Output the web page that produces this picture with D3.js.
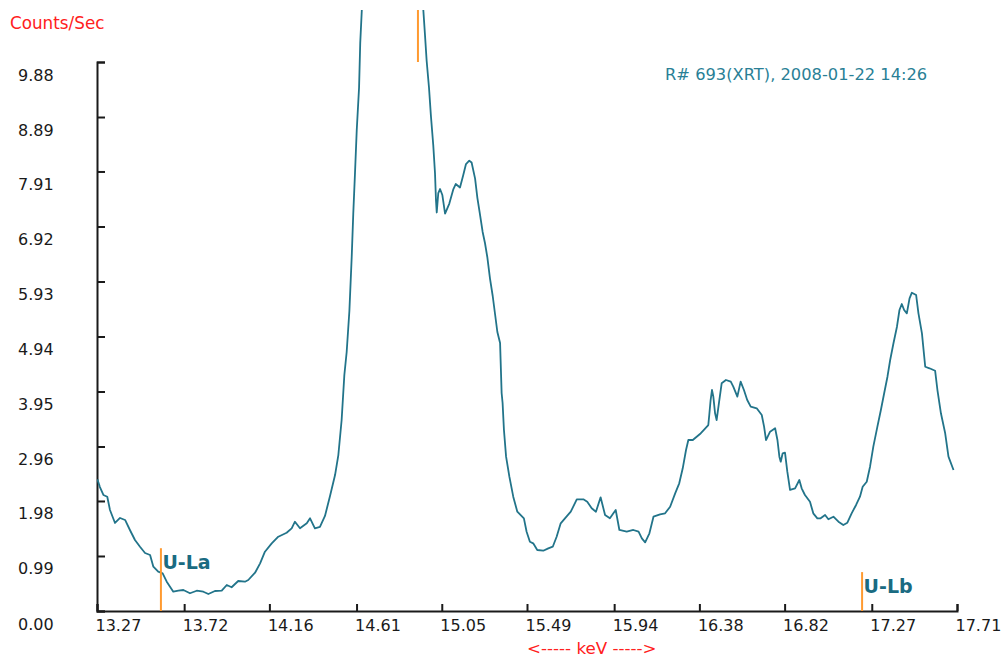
<!DOCTYPE html>
<html>
<head>
<meta charset="utf-8">
<script src="https://cdn.jsdelivr.net/npm/d3@7"></script>
<style>
  html, body { margin: 0; padding: 0; background: #fff; }
  svg { display: block; }
</style>
</head>
<body>
<svg id="chart" width="1003" height="657"></svg>
<script>
// ---- data ----
const xTickValues = [13.27, 13.72, 14.16, 14.61, 15.05, 15.49, 15.94, 16.38, 16.82, 17.27, 17.71];
const yTickValues = [0, 0.99, 1.98, 2.96, 3.95, 4.94, 5.93, 6.92, 7.91, 8.89, 9.88];

const energy = [
  13.272, 13.285, 13.303, 13.323, 13.337, 13.363, 13.389, 13.415, 13.440, 13.466,
  13.492, 13.518, 13.544, 13.561, 13.586, 13.609, 13.630, 13.664, 13.690, 13.716,
  13.750, 13.785, 13.819, 13.845, 13.879, 13.914, 13.940, 13.965, 13.999, 14.034,
  14.051, 14.086, 14.112, 14.137, 14.172, 14.206, 14.249, 14.275, 14.292, 14.318,
  14.353, 14.370, 14.395, 14.421, 14.447, 14.473, 14.499, 14.516, 14.533, 14.547,
  14.559, 14.573, 14.585, 14.593, 14.602, 14.611, 14.623, 14.629, 14.637,
  14.66, 14.70, 14.75, 14.80, 14.85, 14.90, 14.93,
  14.955, 14.963, 14.972, 14.984, 14.994, 15.006, 15.015, 15.020, 15.024, 15.032,
  15.041, 15.053, 15.067, 15.089, 15.110, 15.122, 15.144, 15.161, 15.175, 15.192,
  15.204, 15.222, 15.234, 15.247, 15.261, 15.273, 15.285, 15.299, 15.313, 15.325,
  15.337, 15.351, 15.359, 15.364, 15.371, 15.382, 15.399, 15.419, 15.440, 15.474,
  15.488, 15.505, 15.522, 15.543, 15.574, 15.600, 15.623, 15.643, 15.664, 15.686,
  15.716, 15.747, 15.781, 15.801, 15.824, 15.846, 15.870, 15.893, 15.918, 15.936,
  15.948, 15.967, 16.005, 16.039, 16.066, 16.083, 16.100, 16.122, 16.143, 16.177,
  16.203, 16.229, 16.255, 16.276, 16.294, 16.311, 16.323, 16.346, 16.383, 16.426,
  16.431, 16.438, 16.445, 16.452, 16.461, 16.469, 16.483, 16.495, 16.517, 16.542,
  16.555, 16.576, 16.593, 16.610, 16.627, 16.645, 16.676, 16.702, 16.714, 16.724,
  16.745, 16.771, 16.783, 16.793, 16.800, 16.810, 16.822, 16.834, 16.848, 16.874,
  16.896, 16.908, 16.925, 16.951, 16.968, 16.989, 17.006, 17.029, 17.046, 17.072,
  17.098, 17.123, 17.144, 17.166, 17.189, 17.209, 17.223, 17.244, 17.261, 17.278,
  17.299, 17.317, 17.334, 17.351, 17.365, 17.382, 17.400, 17.413, 17.425, 17.437,
  17.451, 17.465, 17.477, 17.499, 17.511, 17.529, 17.546, 17.568, 17.597, 17.609,
  17.627, 17.649, 17.666, 17.692
];
const counts = [
  2.370, 2.231, 2.088, 2.057, 1.818, 1.584, 1.674, 1.638, 1.458, 1.278,
  1.157, 1.044, 1.008, 0.797, 0.707, 0.678, 0.527, 0.347, 0.365, 0.378,
  0.319, 0.365, 0.347, 0.306, 0.360, 0.365, 0.468, 0.427, 0.540, 0.527,
  0.558, 0.689, 0.858, 1.067, 1.218, 1.337, 1.409, 1.488, 1.607, 1.488,
  1.578, 1.668, 1.488, 1.512, 1.710, 2.070, 2.447, 2.807, 3.437, 4.247,
  4.661, 5.399, 6.371, 7.144, 7.882, 8.656, 9.421, 10.222, 10.803,
  12.6, 15.2, 17.0, 17.6, 16.8, 14.5, 12.3,
  10.803, 10.384, 9.898, 9.421, 8.908, 8.386, 7.882, 7.396, 7.172, 7.522,
  7.594, 7.486, 7.152, 7.332, 7.594, 7.684, 7.621, 7.846, 8.044, 8.104,
  8.071, 7.781, 7.432, 7.144, 6.821, 6.623, 6.371, 5.982, 5.669, 5.345,
  5.021, 4.823, 3.923, 3.743, 3.257, 2.777, 2.417, 2.057, 1.787, 1.668,
  1.427, 1.247, 1.218, 1.098, 1.085, 1.128, 1.157, 1.337, 1.578, 1.668,
  1.787, 2.010, 2.010, 1.967, 1.848, 1.787, 2.046, 1.728, 1.668, 1.758,
  1.818, 1.458, 1.427, 1.458, 1.427, 1.308, 1.236, 1.398, 1.697, 1.740,
  1.758, 1.877, 2.118, 2.298, 2.568, 2.897, 3.077, 3.077, 3.185, 3.347,
  3.527, 3.797, 3.977, 3.857, 3.558, 3.437, 3.797, 4.098, 4.157, 4.127,
  4.037, 3.857, 4.127, 3.977, 3.797, 3.677, 3.648, 3.527, 3.317, 3.077,
  3.227, 3.288, 3.077, 2.777, 2.687, 2.838, 2.849, 2.507, 2.178, 2.208,
  2.357, 2.208, 2.088, 1.967, 1.758, 1.668, 1.668, 1.728, 1.650, 1.697,
  1.607, 1.548, 1.589, 1.758, 1.908, 2.057, 2.237, 2.327, 2.597, 2.957,
  3.317, 3.617, 3.918, 4.216, 4.517, 4.818, 5.116, 5.417, 5.525, 5.417,
  5.357, 5.627, 5.728, 5.687, 5.357, 4.997, 4.396, 4.368, 4.324, 3.977,
  3.558, 3.198, 2.777, 2.537
];

// element line markers: energy, top of marker (counts), bottom (counts), label
const markerLabels = ["U-La", "", "U-Lb"];
const markerEnergy = [13.60, 14.927, 17.22];
const markerTop = [1.13, 10.82, 0.70];
const markerBottom = [0, 9.88, 0];

const titleText = "R# 693(XRT), 2008-01-22 14:26";
const yAxisTitle = "Counts/Sec";
const xAxisTitle = "<----- keV ----->";

// ---- drawing ----
const svg = d3.select("#chart");
const x = d3.scaleLinear().domain([13.27, 17.71]).range([97, 957]);
const y = d3.scaleLinear().domain([0, 9.88]).range([611, 62]);

const FONT = "'DejaVu Sans', Verdana, sans-serif";
const teal = "#22748a";
const orange = "#ff9a30";

// clip for the plot area (the curve leaves the top of the picture)
svg.append("defs").append("clipPath").attr("id", "plotclip")
  .append("rect").attr("x", 97).attr("y", 10).attr("width", 870).attr("height", 601);

// y axis (ticks pointing into plot)
const yAxis = d3.axisRight(y).tickValues(yTickValues).tickSize(8).tickSizeOuter(8).tickFormat("");
const gy = svg.append("g").attr("transform", "translate(97,0)").call(yAxis);
gy.selectAll("path, line").attr("stroke", "#1a1a1a").attr("stroke-width", 2);

// x axis (ticks pointing up)
const xAxis = d3.axisTop(x).tickValues(xTickValues).tickSize(7).tickSizeOuter(7).tickFormat("");
const gx = svg.append("g").attr("transform", "translate(0,611)").call(xAxis);
gx.selectAll("path, line").attr("stroke", "#1a1a1a").attr("stroke-width", 2);

// y tick labels
svg.append("g").selectAll("text").data(yTickValues).join("text")
  .attr("x", 18).attr("y", d => y(d) + 18.5)
  .attr("font-family", FONT).attr("font-size", 16).attr("fill", "#1a1a1a")
  .text(d => d.toFixed(2));

// x tick labels
svg.append("g").selectAll("text").data(xTickValues).join("text")
  .attr("x", d => x(d) - 1.5).attr("y", 631)
  .attr("font-family", FONT).attr("font-size", 16).attr("fill", "#1a1a1a")
  .text(d => d.toFixed(2));

// curve
const pts = energy.map((e, i) => [e, counts[i]]);
svg.append("path").datum(pts)
  .attr("clip-path", "url(#plotclip)")
  .attr("fill", "none").attr("stroke", teal).attr("stroke-width", 1.8)
  .attr("stroke-linejoin", "round")
  .attr("d", d3.line().x(d => x(d[0])).y(d => y(d[1])));

// markers
const mk = svg.append("g").attr("clip-path", "url(#plotclip)");
markerEnergy.forEach((e, i) => {
  mk.append("line")
    .attr("x1", x(e)).attr("x2", x(e))
    .attr("y1", y(markerBottom[i])).attr("y2", y(markerTop[i]))
    .attr("stroke", orange).attr("stroke-width", 2);
  if (markerLabels[i]) {
    svg.append("text")
      .attr("x", x(e) + 1.5).attr("y", y(markerTop[i]) + 20.5)
      .attr("font-family", FONT).attr("font-size", 19).attr("font-weight", "bold")
      .attr("fill", "#1a6b82")
      .text(markerLabels[i]);
  }
});

// titles
svg.append("text").attr("x", 10).attr("y", 28.5)
  .attr("font-family", FONT).attr("font-size", 16.8).attr("fill", "#ff2020")
  .text(yAxisTitle);
svg.append("text").attr("x", 527).attr("y", 654)
  .attr("font-family", FONT).attr("font-size", 16.7).attr("fill", "#ff2020")
  .text(xAxisTitle);
svg.append("text").attr("x", 665).attr("y", 79.5)
  .attr("font-family", FONT).attr("font-size", 16.3).attr("fill", "#2a7f96")
  .text(titleText);
</script>
</body>
</html>
